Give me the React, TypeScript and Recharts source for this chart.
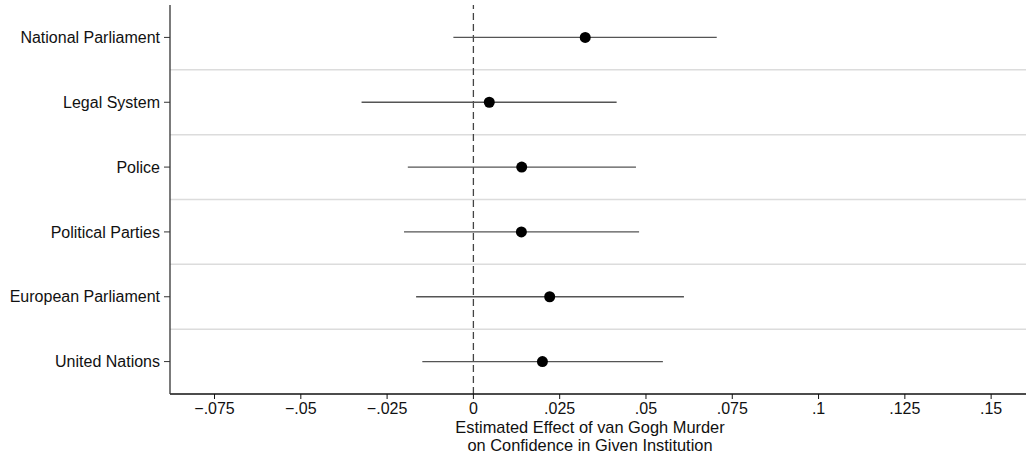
import React from "react";
import {
  ScatterChart,
  Scatter,
  XAxis,
  YAxis,
  CartesianGrid,
  ErrorBar,
  ReferenceLine,
} from "recharts";

// coefficient estimates with 95% intervals
const institutions = [
  "National Parliament",
  "Legal System",
  "Police",
  "Political Parties",
  "European Parliament",
  "United Nations",
];
const estimates = [0.0324, 0.0046, 0.014, 0.0139, 0.0221, 0.02];
const ciLow = [-0.0058, -0.0324, -0.019, -0.0201, -0.0166, -0.0148];
const ciHigh = [0.0705, 0.0415, 0.0471, 0.048, 0.061, 0.0549];
const xTicks = [-0.075, -0.05, -0.025, 0, 0.025, 0.05, 0.075, 0.1, 0.125, 0.15];

const FONT = '"Liberation Sans", Arial, Helvetica, sans-serif';
const X_DOMAIN: [number, number] = [-0.0879, 0.1601];
const MARGIN = { top: 5, right: 0, bottom: 0, left: 0 };
const CHART_H = 458;
const X_AXIS_H = 64;

const data = institutions.map((name, i) => ({
  name,
  pos: i + 1,
  est: estimates[i],
  err: [estimates[i] - ciLow[i], ciHigh[i] - estimates[i]],
}));

const formatX = (v: number) => {
  if (v === 0) return "0";
  const s = Math.abs(v).toString().replace(/^0/, "");
  return v < 0 ? "\u2212" + s : s;
};

const AxisTitle = (props: any) => {
  const vb = props.viewBox || {};
  // title in the original sits a little left of the plot centre
  const cx = vb.x + vb.width / 2 - 8;
  return (
    <text x={cx} y={vb.y} textAnchor="middle" fontSize={16.4} fill="#111" fontFamily={FONT}>
      <tspan x={cx} dy={39}>Estimated Effect of van Gogh Murder</tspan>
      <tspan x={cx} dy={18}>on Confidence in Given Institution</tspan>
    </text>
  );
};

const Dot = (props: any) => <circle cx={props.cx} cy={props.cy} r={5.5} fill="#000" />;

export default function App() {
  // grid lines sit between the categories (band boundaries)
  const gridLines = (args: any) => {
    const top = args?.offset?.top ?? MARGIN.top;
    const h = args?.offset?.height ?? CHART_H - MARGIN.top - X_AXIS_H;
    const n = institutions.length;
    return institutions.slice(1).map((_, i) => top + (h * (i + 1)) / n);
  };

  return (
    <div style={{ position: "absolute", left: 0, top: 0, background: "#fff" }}>
      <ScatterChart width={1026} height={CHART_H} margin={MARGIN} style={{ fontFamily: FONT }}>
        <CartesianGrid
          vertical={false}
          stroke="#dcdcdc"
          strokeWidth={1.5}
          horizontalCoordinatesGenerator={gridLines}
        />
        <XAxis
          type="number"
          dataKey="est"
          domain={X_DOMAIN}
          ticks={xTicks}
          allowDataOverflow
          tickFormatter={formatX}
          height={X_AXIS_H}
          tickSize={5}
          tickMargin={4}
          axisLine={{ stroke: "#111", strokeWidth: 1.3 }}
          tickLine={{ stroke: "#111" }}
          tick={{ fontSize: 16, fill: "#111", fontFamily: FONT }}
          label={<AxisTitle />}
        />
        <XAxis
          xAxisId="top"
          orientation="top"
          type="number"
          domain={X_DOMAIN}
          height={0}
          tick={false}
          tickLine={false}
          axisLine={{ stroke: "#444", strokeWidth: 1.5 }}
        />
        <YAxis
          type="number"
          dataKey="pos"
          domain={[0.5, 6.5]}
          reversed
          ticks={institutions.map((_, i) => i + 1)}
          interval={0}
          tickFormatter={(v: number) => institutions[v - 1]}
          width={170}
          tickSize={6}
          tickMargin={4}
          axisLine={{ stroke: "#333", strokeWidth: 1.3 }}
          tickLine={{ stroke: "#333" }}
          tick={{ fontSize: 16, fill: "#111", fontFamily: FONT }}
        />
        <ReferenceLine x={0} stroke="#444" strokeWidth={1.3} strokeDasharray="7 4" />
        <Scatter data={data} shape={<Dot />} isAnimationActive={false}>
          <ErrorBar dataKey="err" direction="x" width={0} stroke="#555" strokeWidth={1.3} />
        </Scatter>
      </ScatterChart>
    </div>
  );
}
